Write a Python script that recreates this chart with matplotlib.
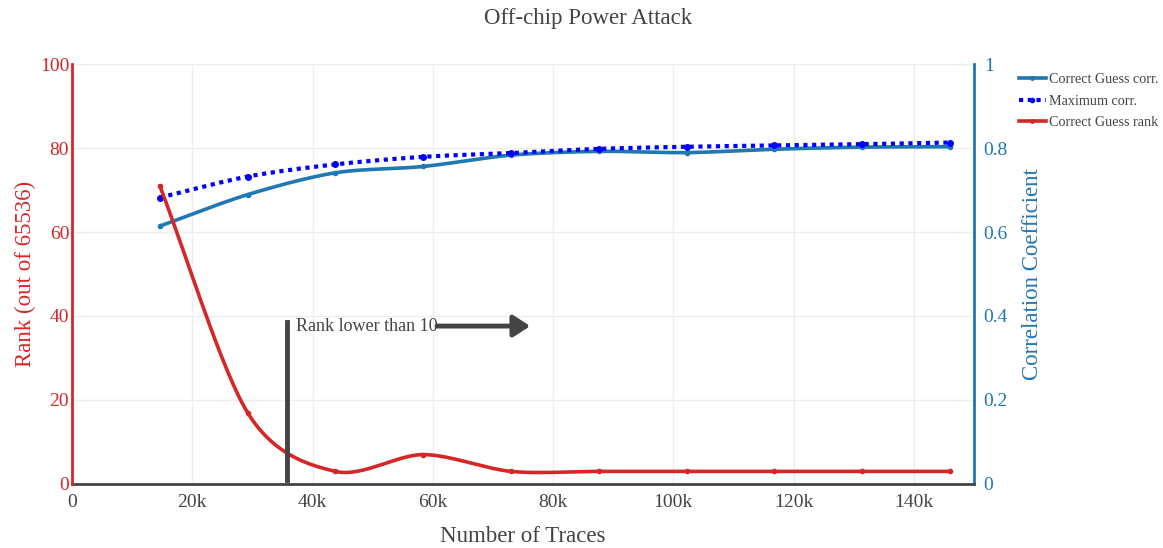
import numpy as np
import matplotlib.pyplot as plt

plt.rcParams['font.family'] = ['Liberation Serif', 'DejaVu Serif']

traces = [14600, 29200, 43800, 58400, 73000, 87600, 102200, 116800, 131400, 146000]
rank = [71, 17, 3, 7, 3, 3, 3, 3, 3, 3]
corr_correct = [0.614, 0.689, 0.741, 0.756, 0.783, 0.792, 0.789, 0.797, 0.802, 0.803]
corr_max = [0.682, 0.732, 0.761, 0.779, 0.788, 0.798, 0.803, 0.806, 0.809, 0.813]

xticks = [0, 20000, 40000, 60000, 80000, 100000, 120000, 140000]
xticklabels = ['0', '20k', '40k', '60k', '80k', '100k', '120k', '140k']

RED = '#d62728'
BLUE = '#1f77b4'
MAXBLUE = '#0000ff'
GREY = '#444444'


def smooth(x, y, n=30, t=0.45):
    # cardinal spline through the points
    x = np.asarray(x, float)
    y = np.asarray(y, float)
    px = np.concatenate([[2 * x[0] - x[1]], x, [2 * x[-1] - x[-2]]])
    py = np.concatenate([[2 * y[0] - y[1]], y, [2 * y[-1] - y[-2]]])
    xs, ys = [], []
    s = np.linspace(0, 1, n, endpoint=False)
    for i in range(1, len(px) - 2):
        for p, out in ((px, xs), (py, ys)):
            m1 = t * (p[i + 1] - p[i - 1])
            m2 = t * (p[i + 2] - p[i])
            h00 = 2 * s**3 - 3 * s**2 + 1
            h10 = s**3 - 2 * s**2 + s
            h01 = -2 * s**3 + 3 * s**2
            h11 = s**3 - s**2
            out.extend(h00 * p[i] + h10 * m1 + h01 * p[i + 1] + h11 * m2)
    xs.append(x[-1])
    ys.append(y[-1])
    return np.array(xs), np.array(ys)


fig = plt.figure(figsize=(11.63, 5.48), dpi=100)
ax2 = fig.add_axes([0.0619, 0.1168, 0.7756, 0.7664])
ax1 = ax2.twinx()
ax2.yaxis.tick_right()
ax2.yaxis.set_label_position('right')
ax1.yaxis.tick_left()
ax1.yaxis.set_label_position('left')
ax1.set_zorder(2)
ax2.set_zorder(1)
ax1.patch.set_visible(False)

# correlation traces (right axis)
sx, sy = smooth(traces, corr_correct)
ax2.plot(sx, sy, color=BLUE, lw=2.6, solid_capstyle='round')
ax2.plot(traces, corr_correct, 'o', color=BLUE, ms=3)
sx, sy = smooth(traces, corr_max)
ax2.plot(sx, sy, color=MAXBLUE, lw=3, linestyle=(0, (1, 1.1)))
ax2.plot(traces, corr_max, 'o', color=MAXBLUE, ms=4)

# rank trace (left axis)
sx, sy = smooth(traces, rank)
ax1.plot(sx, sy, color=RED, lw=2.6, solid_capstyle='round')
ax1.plot(traces, rank, 'o', color=RED, ms=3)

# annotation
ax1.plot([35700, 35700], [1, 38.6], color=GREY, lw=3.5)
ax1.text(37200, 37.6, 'Rank lower than 10', color=GREY, fontsize=13,
         va='center', ha='left')
ax1.annotate('', xy=(76200, 37.6), xytext=(60700, 37.6),
             arrowprops=dict(arrowstyle='-|>,head_width=0.65,head_length=1.0',
                             color=GREY, lw=3.5, shrinkA=0, shrinkB=0))

ax1.set_xlim(0, 150000)
ax1.set_ylim(0, 100)
ax2.set_ylim(0, 1)
ax2.set_xlim(0, 150000)

ax2.set_xticks(xticks)
ax2.set_xticklabels(xticklabels)
ax2.set_yticks([0, 0.2, 0.4, 0.6, 0.8, 1])
ax2.set_yticklabels(['0', '0.2', '0.4', '0.6', '0.8', '1'])
ax1.set_yticks([0, 20, 40, 60, 80, 100])

ax2.grid(True, color='#eeeeee', lw=1)
ax2.set_axisbelow(True)

for ax in (ax1, ax2):
    for sp in ax.spines.values():
        sp.set_visible(False)
ax1.spines['left'].set_visible(True)
ax1.spines['left'].set_color(RED)
ax1.spines['left'].set_linewidth(2)
ax2.spines['right'].set_visible(True)
ax2.spines['right'].set_color(BLUE)
ax2.spines['right'].set_linewidth(2)
ax2.spines['bottom'].set_visible(True)
ax2.spines['bottom'].set_color(GREY)
ax2.spines['bottom'].set_linewidth(2)

ax1.tick_params(axis='y', length=0, colors=RED, labelsize=14, pad=2)
ax2.tick_params(axis='y', length=0, colors=BLUE, labelsize=14, pad=7)
ax2.tick_params(axis='x', length=0, colors=GREY, labelsize=14, pad=7)
ax1.tick_params(axis='x', length=0, labelbottom=False)

ax1.set_ylabel('Rank (out of 65536)', color=RED, fontsize=16.5, labelpad=3)
ax2.set_ylabel('Correlation Coefficient', color=BLUE, fontsize=16.5, labelpad=10)
ax2.set_xlabel('Number of Traces', color=GREY, fontsize=16.5, labelpad=11)
fig.suptitle('Off-chip Power Attack', color=GREY, fontsize=16.5, x=0.506, y=0.985)

handles = [
    plt.Line2D([], [], color=BLUE, lw=2.6, marker='o', ms=2.5),
    plt.Line2D([], [], color=MAXBLUE, lw=3, linestyle=(0, (1, 1.1)), marker='o', ms=3),
    plt.Line2D([], [], color=RED, lw=2.6, marker='o', ms=2.5),
]
fig.legend(handles, ['Correct Guess corr.', 'Maximum corr.', 'Correct Guess rank'],
           loc='upper left', bbox_to_anchor=(0.871, 0.877), frameon=False,
           fontsize=10.2, labelcolor=GREY, handlelength=1.9, handletextpad=0.25,
           labelspacing=0.6, borderaxespad=0)

fig.savefig('out.png', dpi=100)
